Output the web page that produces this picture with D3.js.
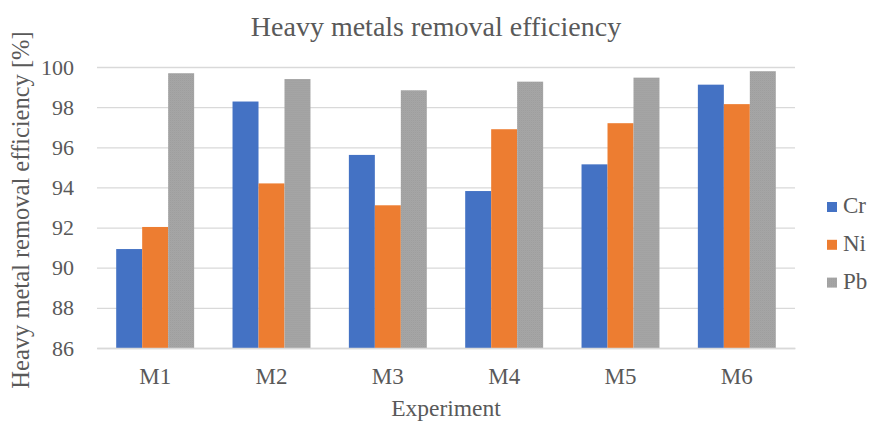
<!DOCTYPE html>
<html>
<head>
<meta charset="utf-8">
<script src="https://cdn.jsdelivr.net/npm/d3@7/dist/d3.min.js"></script>
<style>
  html, body { margin: 0; padding: 0; background: #fff; }
  svg { display: block; }
</style>
</head>
<body>
<svg id="chart" width="871" height="421"></svg>
<script>
// Removal efficiency (%) per experiment and metal
const experiments = ["M1", "M2", "M3", "M4", "M5", "M6"];
const metals = ["Cr", "Ni", "Pb"];
const cr = [90.93, 98.28, 95.62, 93.82, 95.15, 99.12];
const ni = [92.03, 94.20, 93.11, 96.90, 97.20, 98.15];
const pb = [99.69, 99.40, 98.84, 99.27, 99.47, 99.79];
const yTicks = [86, 88, 90, 92, 94, 96, 98, 100];

const seriesValues = { Cr: cr, Ni: ni, Pb: pb };
const colors = { Cr: "#4472c4", Ni: "#ed7d31", Pb: "url(#pbFill)" };

const FONT = "'Liberation Serif', 'Times New Roman', serif";
const TEXT = "#595959";

const svg = d3.select("#chart");
const margin = { left: 97, right: 76, top: 67, bottom: 73 };
const W = 871, H = 421;

// Fine grain texture for the grey series
const defs = svg.append("defs");
const pat = defs.append("pattern")
  .attr("id", "pbFill").attr("patternUnits", "userSpaceOnUse")
  .attr("width", 2).attr("height", 2);
pat.append("rect").attr("width", 2).attr("height", 2).attr("fill", "#a7a7a7");
pat.append("rect").attr("width", 1).attr("height", 1).attr("fill", "#9c9c9c");
pat.append("rect").attr("x", 1).attr("y", 1).attr("width", 1).attr("height", 1).attr("fill", "#a2a2a2");

const x0 = d3.scaleBand().domain(experiments)
  .range([margin.left, W - margin.right]).paddingInner(0.33).paddingOuter(0.165);
const x1 = d3.scaleBand().domain(metals).range([0, x0.bandwidth()]);
const y = d3.scaleLinear().domain([86, 100]).range([H - margin.bottom, margin.top]);

// Gridlines and value ticks
const yAxis = d3.axisLeft(y).tickValues(yTicks).tickSize(-(W - margin.left - margin.right)).tickPadding(23);
const gy = svg.append("g").attr("transform", `translate(${margin.left},0)`).call(yAxis);
gy.attr("font-family", FONT);
gy.select(".domain").remove();
gy.selectAll(".tick line").attr("stroke", "#d9d9d9").attr("stroke-width", 1.3);
gy.selectAll(".tick text").attr("font-size", 22).attr("fill", TEXT).attr("font-family", FONT);

// Bars
const groups = svg.append("g").selectAll("g").data(experiments).join("g")
  .attr("transform", d => `translate(${x0(d)},0)`);
groups.selectAll("rect")
  .data((d, i) => metals.map(m => ({ metal: m, value: seriesValues[m][i] })))
  .join("rect")
  .attr("x", d => x1(d.metal))
  .attr("width", x1.bandwidth())
  .attr("y", d => y(d.value))
  .attr("height", d => y(86) - y(d.value))
  .attr("fill", d => colors[d.metal]);

// Category axis
const xAxis = d3.axisBottom(x0).tickSize(0).tickPadding(20);
const gx = svg.append("g").attr("transform", `translate(0,${y(86)})`).call(xAxis);
gx.attr("font-family", FONT);
gx.select(".domain").attr("stroke", "#d9d9d9").attr("stroke-width", 1.3);
gx.selectAll(".tick text").attr("font-size", 23).attr("fill", TEXT).attr("font-family", FONT);

// Title
svg.append("text").attr("x", 436).attr("y", 36).attr("text-anchor", "middle")
  .attr("font-family", FONT).attr("fill", TEXT)
  .attr("font-size", 28).text("Heavy metals removal efficiency");

// Axis titles
svg.append("text").attr("x", (margin.left + W - margin.right) / 2).attr("y", 416)
  .attr("text-anchor", "middle").attr("font-family", FONT).attr("fill", TEXT)
  .attr("font-size", 23.5).text("Experiment");
svg.append("text")
  .attr("transform", `translate(29,210) rotate(-90)`)
  .attr("text-anchor", "middle").attr("font-family", FONT).attr("fill", TEXT)
  .attr("font-size", 24.5)
  .text("Heavy metal removal efficiency [%]");

// Legend
const legend = svg.append("g").selectAll("g").data(metals).join("g")
  .attr("transform", (d, i) => `translate(827,${213 + i * 37.8})`);
legend.append("rect").attr("x", 0).attr("y", -11).attr("width", 10).attr("height", 10)
  .attr("fill", d => colors[d]);
legend.append("text").attr("x", 16).attr("y", 0).attr("font-size", 23)
  .attr("font-family", FONT).attr("fill", TEXT).text(d => d);
</script>
</body>
</html>
